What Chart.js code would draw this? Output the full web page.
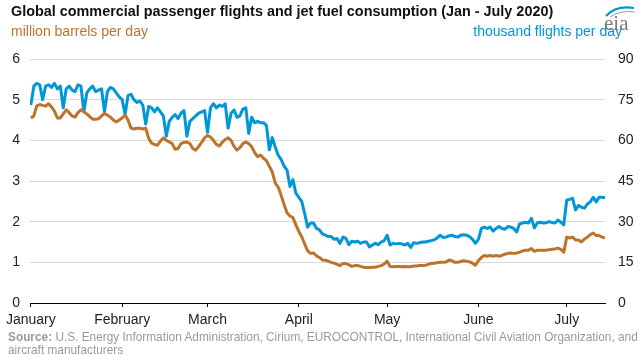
<!DOCTYPE html>
<html><head><meta charset="utf-8">
<script src="https://cdn.jsdelivr.net/npm/chart.js@4.4.0/dist/chart.umd.min.js"></script>
<style>
html,body{margin:0;padding:0;background:#fff;}
#wrap{position:relative;width:644px;height:355px;overflow:hidden;font-family:'Liberation Sans',Arial,sans-serif;}
#c{position:absolute;left:0;top:0;}
#title{position:absolute;left:11px;top:3px;font-weight:bold;font-size:14.4px;color:#111;white-space:nowrap;}
#subL{position:absolute;left:11px;top:23px;font-size:14px;color:#bd732a;white-space:nowrap;}
#subR{position:absolute;right:22px;top:23px;font-size:14px;color:#0096d7;white-space:nowrap;}
#src{position:absolute;left:8px;top:331px;font-size:11.85px;color:#9a9a9a;line-height:13px;white-space:nowrap;}
#src b{color:#9a9a9a;}
#logo{position:absolute;left:602px;top:3px;width:36px;height:34px;}
#logotext{position:absolute;left:604px;top:11px;font-family:'Liberation Serif','DejaVu Serif',serif;font-size:21px;color:#7a7a7a;}
</style></head>
<body>
<div id="wrap">
<canvas id="c" width="644" height="355"></canvas>
<div id="title">Global commercial passenger flights and jet fuel consumption (Jan - July 2020)</div>
<div id="subL">million barrels per day</div>
<div id="subR">thousand flights per day</div>
<svg id="logo" viewBox="0 0 36 34"><path d="M4 13 Q14 2 32 5" stroke="#0096d7" stroke-width="2.2" fill="none"/><path d="M8 14 Q18 7 33 9" stroke="#9a9a9a" stroke-width="1" fill="none"/></svg>
<div id="logotext">eia</div>
<div id="src"><b>Source:</b> U.S. Energy Information Administration, Cirium, EUROCONTROL, International Civil Aviation Organization, and<br>aircraft manufacturers</div>
</div>
<script>
const monthLabels = ['January','February','March','April','May','June','July'];
const monthStartDays = [0,31,60,91,121,152,182];
const leftTicks = [0,1,2,3,4,5,6];
const rightTicks = [0,15,30,45,60,75,90];

// jet fuel consumption, million barrels per day (daily, from Jan 1)
const fuel = [
4.55,4.6,4.85,4.88,4.86,4.84,4.9,4.82,4.72,4.55,
4.55,4.65,4.75,4.68,4.6,4.57,4.68,4.75,4.7,4.65,
4.58,4.52,4.52,4.53,4.6,4.66,4.62,4.57,4.5,4.45,
4.5,4.55,4.62,4.5,4.3,4.28,4.3,4.3,4.28,4.3,
4.05,3.93,3.9,3.88,3.98,4.06,4.0,3.96,3.92,3.78,
3.8,3.92,3.95,3.96,3.92,3.8,3.76,3.85,3.95,4.06,
4.12,4.08,4.0,3.9,3.86,3.95,4.02,4.06,4.0,3.85,
3.76,3.82,3.92,3.96,3.92,3.84,3.7,3.6,3.64,3.56,
3.5,3.36,3.22,2.95,2.85,2.65,2.42,2.22,2.14,2.1,
1.92,1.76,1.63,1.45,1.28,1.22,1.23,1.16,1.12,1.06,
1.05,1.03,1.0,0.98,0.95,0.92,0.97,0.97,0.94,0.9,
0.92,0.92,0.9,0.88,0.87,0.87,0.88,0.88,0.9,0.92,
0.96,1.03,0.9,0.89,0.9,0.9,0.89,0.9,0.89,0.89,
0.91,0.91,0.92,0.92,0.93,0.95,0.97,0.98,0.99,1.0,
1.0,1.01,1.06,1.04,1.0,1.0,1.02,1.04,1.03,1.01,
0.98,0.93,1.04,1.12,1.17,1.15,1.17,1.15,1.17,1.15,
1.17,1.2,1.22,1.23,1.22,1.23,1.25,1.28,1.3,1.3,
1.34,1.27,1.3,1.3,1.3,1.3,1.31,1.32,1.33,1.35,
1.32,1.25,1.62,1.6,1.62,1.55,1.55,1.5,1.57,1.62,
1.68,1.72,1.66,1.66,1.62,1.6
];

// commercial passenger flights, thousand flights per day (daily, from Jan 1)
const flights = [
73,80,81,80.5,75,80,80.5,79.5,81,79,
80,72,79,80,78.5,78,80.5,80,70.5,77.5,
79,80,78,78.5,79,70.5,78,79.5,79,77.5,
76,75,69.5,76.5,77,75,74,74.5,73,66,
72.5,72,70.5,72,70.5,69,61.5,67,68.5,69.5,
68,70,71,61.5,67,68,69,70,70.5,71,
63,72,73.5,72,73,72.5,73.5,64.5,70,71.2,
68.5,69,71.5,72,62.5,68.5,66.5,67,66.5,66.5,
65.5,56.5,61,57.5,54.5,53,50.5,49,43,45.5,
40.5,39,37.5,33,28,29.5,29.5,27.5,27,25.5,
25,24.5,24.5,23.5,23.8,22,24.3,23.8,21.5,22.8,
22.5,22.8,22,22.5,22.5,20.7,21.4,22,21.5,22.5,
23,25,21.4,22,21.8,22,21.8,21.4,22,20.5,
22.2,22,22.2,22.5,22.5,22.8,23,23.3,24,25,
24.2,24.3,24.8,25,24.5,24.3,25,25.2,25,24.5,
23.5,22,23.5,27.5,28,27.5,28,26.5,27.5,28.2,
27.5,27.2,28.2,28,27.5,26.2,29.2,29.5,29.8,29.5,
31.2,27.7,29.5,29.8,29.5,29.6,30,29.7,29.5,30.6,
29.8,28.8,38,38.2,38.6,34.3,36,35.3,35,36.5,
37.3,39,37.3,39,39,38.8
];

const tickFont = {family:"'Liberation Sans', Arial, sans-serif", size:14};
new Chart(document.getElementById('c'), {
  type:'line',
  data:{datasets:[
    {label:'Jet fuel consumption', data:fuel.map((v,i)=>({x:i,y:v})), borderColor:'#bd732a', borderWidth:3, pointRadius:0, yAxisID:'y', tension:0, borderJoinStyle:'round'},
    {label:'Commercial flights', data:flights.map((v,i)=>({x:i,y:v})), borderColor:'#0096d7', borderWidth:3, pointRadius:0, yAxisID:'y1', tension:0, borderJoinStyle:'round'}
  ]},
  options:{
    responsive:false, animation:false, devicePixelRatio:1,
    layout:{padding:{top:59,bottom:22,left:0,right:0}},
    plugins:{legend:{display:false},tooltip:{enabled:false}},
    scales:{
      x:{type:'linear', min:-0.3, max:195, bounds:'data',
         afterBuildTicks:a=>{a.ticks=monthStartDays.map(v=>({value:v}));},
         ticks:{callback:(v,i)=>monthLabels[i], autoSkip:false, maxRotation:0, color:'#222', font:tickFont, padding:5},
         grid:{drawOnChartArea:false, drawTicks:true, tickLength:4, color:'#000'},
         border:{color:'#000', width:1},
         afterFit:s=>{s.height=30;}},
      y:{position:'left', min:0, max:6,
         afterBuildTicks:a=>{a.ticks=leftTicks.map(v=>({value:v}));},
         ticks:{color:'#222', font:tickFont, padding:10},
         grid:{color:c=>c.tick && c.tick.value===0?'rgba(0,0,0,0)':'#d9d9d9', drawTicks:false},
         border:{display:false},
         afterFit:s=>{s.width=30;}},
      y1:{position:'right', min:0, max:90,
         afterBuildTicks:a=>{a.ticks=rightTicks.map(v=>({value:v}));},
         ticks:{color:'#222', font:tickFont, padding:13},
         grid:{drawOnChartArea:false, drawTicks:false},
         border:{display:false},
         afterFit:s=>{s.width=39;}}
    }
  }
});
</script>
</body></html>
